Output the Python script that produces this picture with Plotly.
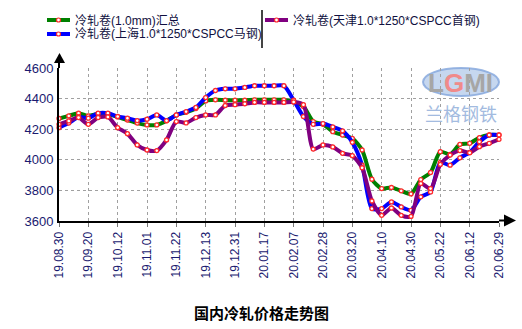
import plotly.graph_objects as go

tick_labels = ["19.08.30", "19.09.20", "19.10.12", "19.11.01", "19.11.22", "19.12.13",
               "19.12.31", "20.01.17", "20.02.07", "20.02.28", "20.03.20", "20.04.10",
               "20.04.30", "20.05.22", "20.06.12", "20.06.29"]

series_names = ["冷轧卷(1.0mm)汇总", "冷轧卷(上海1.0*1250*CSPCC马钢)", "冷轧卷(天津1.0*1250*CSPCC首钢)"]

green = [4270, 4287, 4305, 4287, 4300, 4300, 4280, 4260, 4240, 4228, 4228, 4255, 4293, 4310, 4335,
         4385, 4392, 4390, 4390, 4390, 4392, 4392, 4392, 4392, 4377, 4348, 4250, 4232, 4184, 4162, 4140,
         4064, 3873, 3812, 3819, 3797, 3777, 3871, 3917, 4053, 4035, 4101, 4108, 4145, 4162, 4162]
blue = [4210, 4240, 4280, 4272, 4305, 4305, 4283, 4272, 4256, 4265, 4293, 4256, 4293, 4315, 4342,
        4407, 4453, 4464, 4464, 4473, 4484, 4484, 4484, 4484, 4390, 4283, 4232, 4237, 4215, 4189, 4114,
        3965, 3681, 3681, 3725, 3692, 3670, 3758, 3790, 3983, 3965, 4013, 4048, 4118, 4162, 4162]
purple = [4232, 4254, 4276, 4232, 4276, 4280, 4210, 4171, 4097, 4064, 4060, 4130, 4250, 4241, 4276,
          4293, 4293, 4355, 4360, 4366, 4375, 4375, 4375, 4375, 4378, 4360, 4070, 4097, 4084, 4042, 4027,
          3948, 3731, 3637, 3685, 3637, 3630, 3845, 3812, 3970, 4031, 4060, 4046, 4086, 4108, 4134]

colors = ["#008000", "#0000FF", "#800080"]
all_series = [green, blue, purple]

W, H = 522, 329
L, R, T, B = 59, 23, 68, 108
PW, PH = W - L - R, H - T - B


def px(x):
    return (x - L) / PW


def py(y):
    return (H - B - y) / PH


x_idx = list(range(len(green)))
tick_step = 3
tickvals = [i * tick_step for i in range(len(tick_labels))]

fig = go.Figure()
for name, vals, col in zip(series_names, all_series, colors):
    fig.add_trace(go.Scatter(
        x=x_idx, y=vals, name=name, mode="lines+markers",
        line=dict(color=col, width=4, shape="spline", smoothing=0.7),
        marker=dict(size=4, color="white", line=dict(color="#ff2a2a", width=1.3)),
        showlegend=False, cliponaxis=False,
    ))

font_main = "Liberation Sans, Arial, Noto Sans CJK SC"
shapes = []
annotations = []

# axis extensions and arrows
shapes.append(dict(type="line", xref="paper", yref="paper", x0=px(499), x1=px(506),
                   y0=py(220.5), y1=py(220.5), line=dict(color="black", width=2)))
shapes.append(dict(type="path", xref="paper", yref="paper",
                   path=f"M {px(504)} {py(214.5)} L {px(516)} {py(220.5)} L {px(504)} {py(226.5)} Z",
                   fillcolor="black", line=dict(color="black", width=0)))
shapes.append(dict(type="line", xref="paper", yref="paper", x0=px(59), x1=px(59),
                   y0=py(68), y1=py(62), line=dict(color="black", width=2)))
shapes.append(dict(type="path", xref="paper", yref="paper",
                   path=f"M {px(54)} {py(63)} L {px(59.5)} {py(53)} L {px(65)} {py(63)} Z",
                   fillcolor="black", line=dict(color="black", width=0)))

# watermark
shapes.append(dict(type="circle", xref="paper", yref="paper", x0=px(423), x1=px(499),
                   y0=py(96), y1=py(68), fillcolor="rgba(160,188,228,0.6)",
                   line=dict(color="rgba(130,165,220,0.8)", width=2), layer="below"))
annotations.append(dict(xref="paper", yref="paper", x=px(460), y=py(83),
                        text="<b>L<span style='color:#f08a8a'>G</span>MI</b>",
                        xanchor="center", yanchor="middle",
                        showarrow=False, font=dict(family="Liberation Sans Narrow, Liberation Sans", size=26, color="#a6a6a6")))
annotations.append(dict(xref="paper", yref="paper", x=px(461), y=py(113), text="兰格钢铁",
                        xanchor="center", yanchor="middle",
                        showarrow=False, font=dict(family="Noto Sans CJK SC", size=18, color="#a3bbe0")))

# legend
leg_pos = [(47, 20), (47, 34), (265, 20)]
for (lx, ly), name, col in zip(leg_pos, series_names, colors):
    shapes.append(dict(type="line", xref="paper", yref="paper", x0=px(lx), x1=px(lx + 23),
                       y0=py(ly), y1=py(ly), line=dict(color=col, width=4)))
    shapes.append(dict(type="circle", xref="paper", yref="paper", x0=px(lx + 9.5), x1=px(lx + 13.5),
                       y0=py(ly + 2), y1=py(ly - 2), fillcolor="white",
                       line=dict(color="#ff2a2a", width=1.2)))
    annotations.append(dict(xref="paper", yref="paper", x=px(lx + 26), y=py(ly), text=name,
                            xanchor="left", yanchor="middle", showarrow=False,
                            font=dict(family=font_main, size=12, color="#101040")))
shapes.append(dict(type="line", xref="paper", yref="paper", x0=px(262), x1=px(262),
                   y0=py(10), y1=py(48), line=dict(color="#444444", width=2)))

# title
annotations.append(dict(xref="paper", yref="paper", x=px(261), y=py(312), text="<b>国内冷轧价格走势图</b>",
                        showarrow=False, xanchor="center", yanchor="middle",
                        font=dict(family="Noto Sans CJK SC", size=15, color="black")))

fig.update_layout(
    width=W, height=H, margin=dict(l=L, r=R, t=T, b=B),
    paper_bgcolor="white", plot_bgcolor="white",
    shapes=shapes, annotations=annotations, showlegend=False,
    xaxis=dict(range=[0, len(green) - 1], tickvals=tickvals, ticktext=tick_labels,
               tickangle=-90, tickfont=dict(family=font_main, size=12, color="#1a1a70"),
               showgrid=True, gridcolor="#a0a0a0", griddash="dot", gridwidth=1,
               showline=True, linecolor="black", linewidth=2,
               ticks="outside", ticklen=4, tickcolor="#777777", zeroline=False),
    yaxis=dict(range=[3600, 4600], tickvals=[3600, 3800, 4000, 4200, 4400, 4600],
               tickfont=dict(family=font_main, size=13, color="#1a1a70"),
               showgrid=True, gridcolor="#a0a0a0", griddash="dot", gridwidth=1,
               showline=True, linecolor="black", linewidth=2, ticks="", ticklabelstandoff=1,
               zeroline=False),
)

fig.write_html("out.html")
